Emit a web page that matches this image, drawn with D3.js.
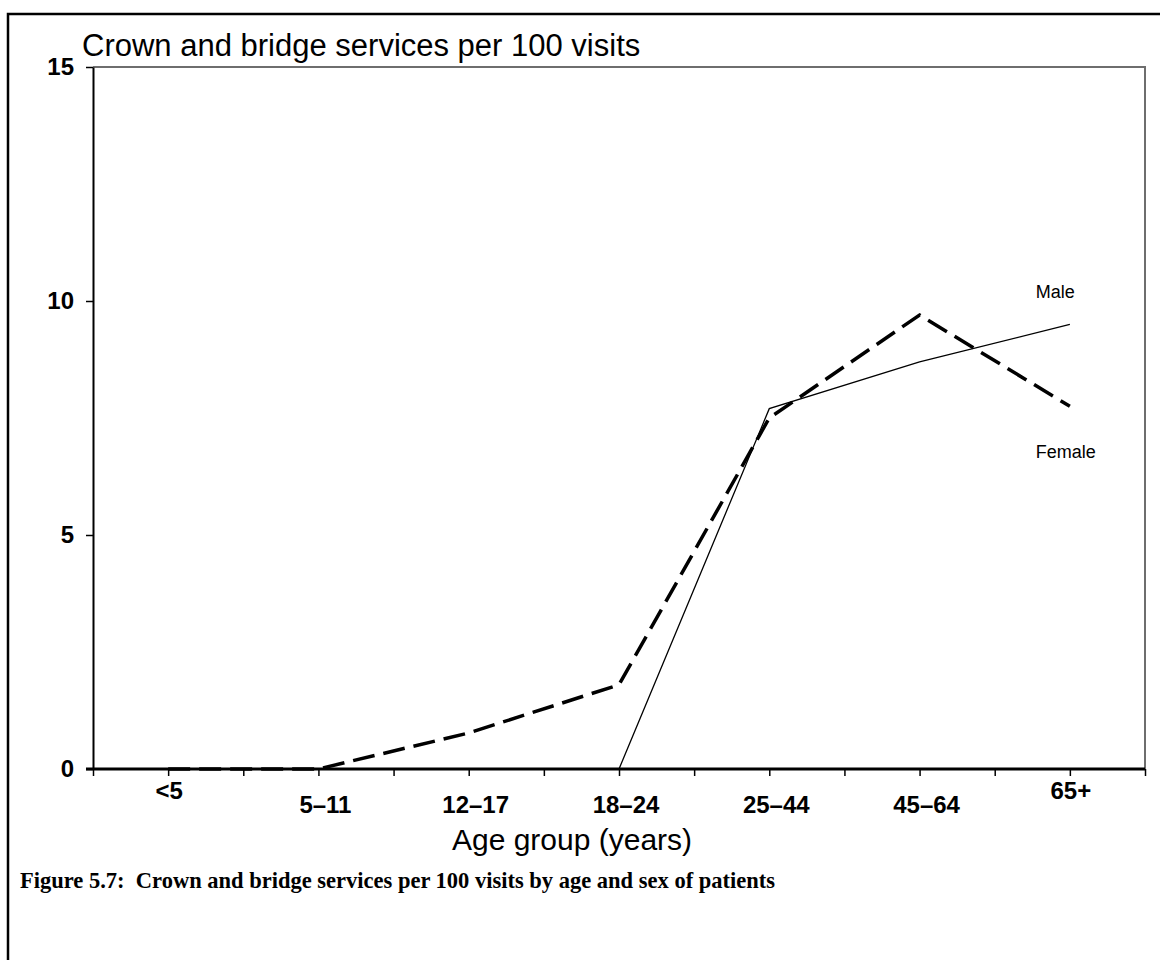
<!DOCTYPE html>
<html>
<head>
<meta charset="utf-8">
<script src="https://cdn.jsdelivr.net/npm/d3@7"></script>
<style>
  body { margin: 0; background: #fff; }
  svg { display: block; }
  text { fill: #000; }
</style>
</head>
<body>
<svg id="chart" width="1160" height="960"></svg>
<script>
// Dati del grafico
const ageGroups = ["<5", "5–11", "12–17", "18–24", "25–44", "45–64", "65+"];
const maleRate = [0, 0, 0, 0, 7.7, 8.7, 9.5];
const femaleRate = [0, 0, 0.77, 1.8, 7.5, 9.7, 7.75];
const yTicks = [0, 5, 10, 15];

const chartTitle = "Crown and bridge services per 100 visits";
const xTitle = "Age group (years)";
const caption = "Figure 5.7:  Crown and bridge services per 100 visits by age and sex of patients";

const sans = "Liberation Sans, Arial, sans-serif";
const serif = "Liberation Serif, Times New Roman, serif";

// Area del grafico
const plot = { left: 93, top: 67, right: 1145, bottom: 769 };

const svg = d3.select("#chart");

// cornice esterna
svg.append("rect")
  .attr("x", 8)
  .attr("y", 14)
  .attr("width", 1170)
  .attr("height", 980)
  .attr("fill", "none")
  .attr("stroke", "#000")
  .attr("stroke-width", 2.5);

// Scale
const x = d3.scaleBand()
  .domain(ageGroups)
  .range([plot.left, plot.right])
  .padding(0);

const xHalf = d3.scaleLinear()
  .domain([0, ageGroups.length * 2])
  .range([plot.left, plot.right]);

const y = d3.scaleLinear()
  .domain([0, 15])
  .range([plot.bottom, plot.top]);

const cx = d => x(d) + x.bandwidth() / 2;

// bordo superiore e destro (grigio)
svg.append("path")
  .attr("d", `M${plot.left},${plot.top}H${plot.right}V${plot.bottom}`)
  .attr("fill", "none")
  .attr("stroke", "#6e6e6e")
  .attr("stroke-width", 2);

// Asse Y
const yAxis = svg.append("g")
  .attr("transform", `translate(${plot.left},0)`)
  .call(d3.axisLeft(y).tickValues(yTicks).tickSize(7).tickSizeOuter(0).tickPadding(12));
yAxis.select(".domain").attr("stroke", "#000").attr("stroke-width", 2);
yAxis.selectAll(".tick line").attr("stroke-width", 1.5);
yAxis.selectAll(".tick text")
  .style("font-family", sans)
  .style("font-size", "24px")
  .style("font-weight", "bold");

// Asse X: tacche ogni mezza categoria
const xAxis = svg.append("g")
  .attr("transform", `translate(0,${plot.bottom})`)
  .call(d3.axisBottom(xHalf).ticks(ageGroups.length * 2).tickSize(7).tickFormat(""));
xAxis.select(".domain").attr("stroke", "#000").attr("stroke-width", 3)
  .attr("d", `M${plot.left - 7},0H${plot.right}`);
xAxis.selectAll(".tick line").attr("stroke-width", 1.5);

// etichette categorie
svg.append("g")
  .selectAll("text")
  .data(ageGroups)
  .join("text")
  .attr("x", d => cx(d) + (d.includes("–") ? 7 : 1))
  .attr("y", d => d.includes("–") ? plot.bottom + 44 : plot.bottom + 30)
  .attr("text-anchor", "middle")
  .style("font-family", sans)
  .style("font-size", "24px")
  .style("font-weight", "bold")
  .text(d => d);

// Linee
const line = vals => d3.line()
  .x((d, i) => cx(ageGroups[i]))
  .y(d => y(d))(vals);

svg.append("path")
  .attr("d", line(maleRate))
  .attr("fill", "none")
  .attr("stroke", "#000")
  .attr("stroke-width", 1.3);

svg.append("path")
  .attr("d", line(femaleRate))
  .attr("fill", "none")
  .attr("stroke", "#000")
  .attr("stroke-width", 3.5)
  .attr("stroke-dasharray", "22,9");

// etichette serie
const last = ageGroups.length - 1;
svg.append("text")
  .attr("x", cx(ageGroups[last]) - 34)
  .attr("y", y(maleRate[last]) - 26)
  .style("font-family", sans)
  .style("font-size", "18px")
  .text("Male");

svg.append("text")
  .attr("x", cx(ageGroups[last]) - 34)
  .attr("y", y(femaleRate[last]) + 52)
  .style("font-family", sans)
  .style("font-size", "18px")
  .text("Female");

// Titoli
svg.append("text")
  .attr("x", 82)
  .attr("y", 56)
  .style("font-family", sans)
  .style("font-size", "31px")
  .text(chartTitle);

svg.append("text")
  .attr("x", 572)
  .attr("y", 850)
  .attr("text-anchor", "middle")
  .style("font-family", sans)
  .style("font-size", "30px")
  .text(xTitle);

svg.append("text")
  .attr("x", 20)
  .attr("y", 888)
  .style("font-family", serif)
  .style("font-size", "22.5px")
  .style("font-weight", "bold")
  .style("white-space", "pre")
  .text(caption);
</script>
</body>
</html>
